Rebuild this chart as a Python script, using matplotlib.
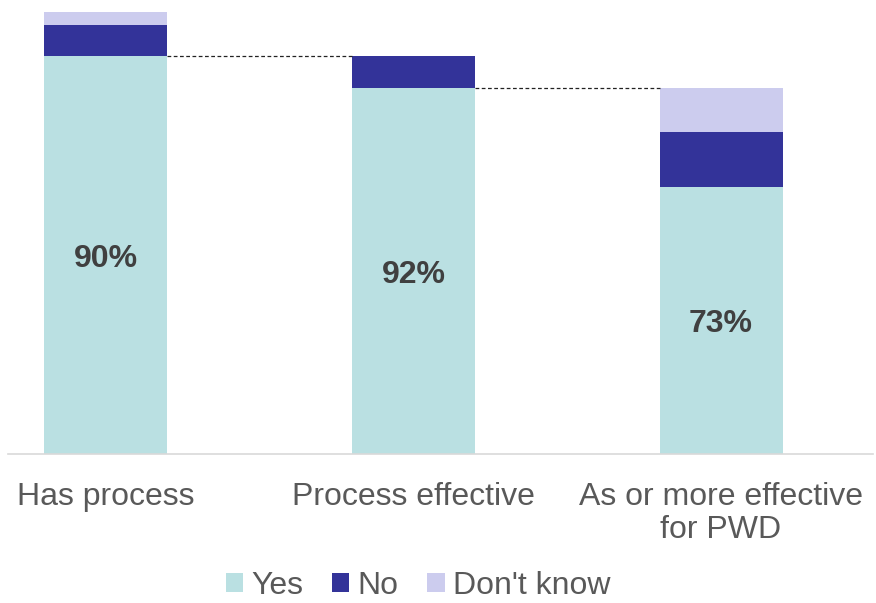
import matplotlib.pyplot as plt
import numpy as np

plt.rcParams['font.family'] = ['Liberation Sans', 'DejaVu Sans']

categories = ["Has process", "Process effective", "As or more effective\nfor PWD"]
yes = [90, 92, 73]
no = [7, 8, 15]
dont_know = [3, 0, 12]

col_yes = "#bae0e2"
col_no = "#333399"
col_dk = "#ccccee"

# each bar is the "Yes" share of the previous one
totals = [1.0]
for v in yes[:-1]:
    totals.append(totals[-1] * v / 100)
totals = np.array(totals)
yes_h = totals * np.array(yes) / 100
no_h = totals * np.array(no) / 100
dk_h = totals * np.array(dont_know) / 100

W, H = 876, 603
fig = plt.figure(figsize=(W / 100, H / 100), dpi=100)
ax = fig.add_axes([8 / W, (H - 454) / H, (873 - 8) / W, (454 - 12) / H])

x = np.arange(len(categories))
width = 0.4
ax.bar(x, yes_h, width, color=col_yes, label="Yes")
ax.bar(x, no_h, width, bottom=yes_h, color=col_no, label="No")
ax.bar(x, dk_h, width, bottom=yes_h + no_h, color=col_dk, label="Don't know")

for i in range(len(x) - 1):
    ax.plot([x[i] + width / 2, x[i + 1] - width / 2], [yes_h[i], yes_h[i]],
            ls=(0, (3, 2)), color="#222222", lw=0.9)

for i, v in enumerate(yes):
    ax.text(x[i], yes_h[i] / 2, f"{v}%", ha="center", va="center_baseline",
            fontsize=23, fontweight="bold", color="#404040")

ax.set_xlim(-0.318, 2.494)
ax.set_ylim(0, 1)
ax.set_yticks([])
ax.set_xticks(x)
ax.set_xticklabels(categories, fontsize=23, color="#595959", linespacing=1.15)
ax.tick_params(axis="x", length=0, pad=20)
for s in ["top", "left", "right"]:
    ax.spines[s].set_visible(False)
ax.spines["bottom"].set_color("#d9d9d9")
ax.spines["bottom"].set_linewidth(1.2)

fig.legend(loc="center", bbox_to_anchor=(0.477, (H - 586) / H), ncol=3,
           frameon=False, fontsize=23, handlelength=0.55, handleheight=0.55,
           handletextpad=0.25, columnspacing=0.9, labelcolor="#595959")

fig.savefig("out.png", dpi=100)
